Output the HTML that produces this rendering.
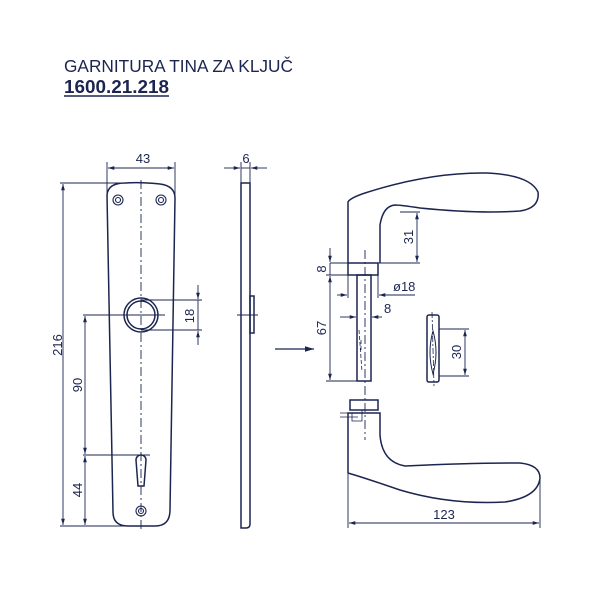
<!DOCTYPE html>
<html><head><meta charset="utf-8"><style>
html,body{margin:0;padding:0;background:#fff;}
svg{display:block;}
text{font-family:"Liberation Sans",sans-serif;fill:#1c2550;}
</style></head><body>
<svg width="600" height="600" viewBox="0 0 600 600" xmlns="http://www.w3.org/2000/svg">
<defs>
<marker id="a" viewBox="0 0 10 10" refX="10" refY="5" markerWidth="7" markerHeight="7" orient="auto-start-reverse"><path d="M0,2 L10,5 L0,8 z" fill="#1c2550"/></marker>
</defs>
<text x="64" y="72" font-size="17.2" textLength="229" lengthAdjust="spacingAndGlyphs">GARNITURA TINA ZA KLJUČ</text>
<text x="64" y="93" font-size="18" font-weight="bold" textLength="105" lengthAdjust="spacingAndGlyphs">1600.21.218</text>
<line x1="64" y1="96" x2="169" y2="96" stroke="#1c2550" stroke-width="1.5"/>
<g fill="none" stroke="#1c2550" stroke-width="1.5">
<path d="M107,195 Q108,183 125,183 Q141,182 160,184 Q175,186 175,198 L170,510 Q170,526 155,526 L128,526 Q113,526 113,512 Z"/>
<g stroke-width="1.1">
<circle cx="118" cy="200" r="5"/><circle cx="118" cy="200" r="2.5"/>
<circle cx="161" cy="200" r="5"/><circle cx="161" cy="200" r="2.5"/>
<circle cx="141" cy="511" r="5"/><circle cx="141" cy="511" r="2.5"/>
</g>
<circle cx="141" cy="315" r="17"/><circle cx="141" cy="315" r="14"/>
<path d="M136,460 A5,5 0 1 1 146,460 L144,486 L138,486 Z"/>
<line x1="141" y1="180" x2="141" y2="532" stroke-width="0.9" stroke-dasharray="9,3,2,3"/>
<line x1="107" y1="162" x2="107" y2="195" stroke-width="0.9"/>
<line x1="175" y1="162" x2="175" y2="198" stroke-width="0.9"/>
<line x1="108" y1="168" x2="174" y2="168" stroke-width="0.9" marker-start="url(#a)" marker-end="url(#a)"/>
<line x1="60" y1="183" x2="125" y2="183" stroke-width="0.9"/>
<line x1="60" y1="526" x2="128" y2="526" stroke-width="0.9"/>
<line x1="63" y1="184" x2="63" y2="525" stroke-width="0.9" marker-start="url(#a)" marker-end="url(#a)"/>
<line x1="83" y1="315" x2="165" y2="315" stroke-width="0.9"/>
<line x1="83" y1="455" x2="150" y2="455" stroke-width="0.9"/>
<line x1="85" y1="316" x2="85" y2="454" stroke-width="0.9" marker-start="url(#a)" marker-end="url(#a)"/>
<line x1="85" y1="456" x2="85" y2="525" stroke-width="0.9" marker-start="url(#a)" marker-end="url(#a)"/>
<line x1="141" y1="300" x2="202" y2="300" stroke-width="0.9"/>
<line x1="141" y1="330" x2="202" y2="330" stroke-width="0.9"/>
<line x1="198" y1="285" x2="198" y2="299" stroke-width="0.9" marker-end="url(#a)"/>
<line x1="198" y1="345" x2="198" y2="331" stroke-width="0.9" marker-end="url(#a)"/>
<line x1="198" y1="300" x2="198" y2="330" stroke-width="0.9"/>
<path d="M241,183 L250,183 L250,524 Q250,528 246,528 L241,528 Z"/>
<rect x="250" y="296" width="4" height="37"/>
<line x1="237" y1="315" x2="258" y2="315" stroke-width="0.9"/>
<line x1="241" y1="162" x2="241" y2="183" stroke-width="0.9"/>
<line x1="250" y1="162" x2="250" y2="183" stroke-width="0.9"/>
<line x1="224" y1="168" x2="240" y2="168" stroke-width="0.9" marker-end="url(#a)"/>
<line x1="267" y1="168" x2="251" y2="168" stroke-width="0.9" marker-end="url(#a)"/>
<line x1="241" y1="168" x2="250" y2="168" stroke-width="0.9"/>
<path d="M348,263 L348,202 Q350,198 365,193 Q430,172 487,173 Q530,175 538,192 Q540,208 520,211 Q480,214 420,208 Q400,205 395,205 Q383,206 380,225 L380,263"/>
<line x1="330" y1="263" x2="420" y2="263" stroke-width="0.9"/>
<rect x="348" y="263" width="30" height="12"/>
<line x1="326" y1="275" x2="357" y2="275" stroke-width="0.9"/>
<rect x="357" y="275" width="14" height="106"/>
<path d="M359,330 L362,372 M361,340 L361,350" stroke-width="0.8" stroke-dasharray="4,2"/>
<line x1="326" y1="381" x2="357" y2="381" stroke-width="0.9"/>
<line x1="365" y1="250" x2="365" y2="440" stroke-width="0.9" stroke-dasharray="9,3,2,3"/>
<line x1="400" y1="212" x2="420" y2="212" stroke-width="0.9"/>
<line x1="417" y1="213" x2="417" y2="262" stroke-width="0.9" marker-start="url(#a)" marker-end="url(#a)"/>
<line x1="330" y1="248" x2="330" y2="262" stroke-width="0.9" marker-end="url(#a)"/>
<line x1="330" y1="263" x2="330" y2="275" stroke-width="0.9"/>
<line x1="330" y1="276" x2="330" y2="380" stroke-width="0.9" marker-start="url(#a)" marker-end="url(#a)"/>
<line x1="348" y1="275" x2="348" y2="298" stroke-width="0.9"/>
<line x1="378" y1="275" x2="378" y2="298" stroke-width="0.9"/>
<line x1="337" y1="295" x2="347" y2="295" stroke-width="0.9" marker-end="url(#a)"/>
<line x1="415" y1="295" x2="379" y2="295" stroke-width="0.9" marker-end="url(#a)"/>
<line x1="340" y1="317" x2="356" y2="317" stroke-width="0.9" marker-end="url(#a)"/>
<line x1="382" y1="317" x2="372" y2="317" stroke-width="0.9" marker-end="url(#a)"/>
<line x1="275" y1="349" x2="314" y2="349" stroke-width="1.3" marker-end="url(#a)"/>
<rect x="427" y="315" width="12" height="67" rx="2"/>
<path d="M433,331 Q427,352 433,374 Q439,352 433,331 Z" stroke-width="1"/>
<line x1="432" y1="312" x2="434" y2="386" stroke-width="0.8" stroke-dasharray="6,2,2,2"/>
<line x1="439" y1="329" x2="469" y2="329" stroke-width="0.9"/>
<line x1="439" y1="376" x2="469" y2="376" stroke-width="0.9"/>
<line x1="465" y1="330" x2="465" y2="375" stroke-width="0.9" marker-start="url(#a)" marker-end="url(#a)"/>
<rect x="350" y="400" width="28" height="10"/>
<path d="M348,473 L348,413 L380,413 L380,435 Q382,462 405,466 Q470,463 520,463 Q540,465 540,478 Q538,497 505,502 Q450,505 400,490 Q365,478 348,473"/>
<path d="M340,417 L358,417 M340,413 L358,413 M352,413 L352,421 L362,421 L362,410" stroke-width="0.8"/>
<line x1="348" y1="473" x2="348" y2="528" stroke-width="0.9"/>
<line x1="540" y1="480" x2="540" y2="528" stroke-width="0.9"/>
<line x1="349" y1="523" x2="539" y2="523" stroke-width="0.9" marker-start="url(#a)" marker-end="url(#a)"/>
</g>
<g font-size="13">
<text x="143" y="163" text-anchor="middle">43</text>
<text x="246" y="163" text-anchor="middle">6</text>
<text transform="translate(62,345) rotate(-90)" text-anchor="middle">216</text>
<text transform="translate(82,385) rotate(-90)" text-anchor="middle">90</text>
<text transform="translate(82,490) rotate(-90)" text-anchor="middle">44</text>
<text transform="translate(194,316) rotate(-90)" text-anchor="middle">18</text>
<text transform="translate(413,237) rotate(-90)" text-anchor="middle">31</text>
<text transform="translate(326,269) rotate(-90)" text-anchor="middle">8</text>
<text transform="translate(326,328) rotate(-90)" text-anchor="middle">67</text>
<text x="393" y="291">ø18</text>
<text x="384" y="313">8</text>
<text transform="translate(461,352) rotate(-90)" text-anchor="middle">30</text>
<text x="444" y="519" text-anchor="middle">123</text>
</g>
</svg>
</body></html>
